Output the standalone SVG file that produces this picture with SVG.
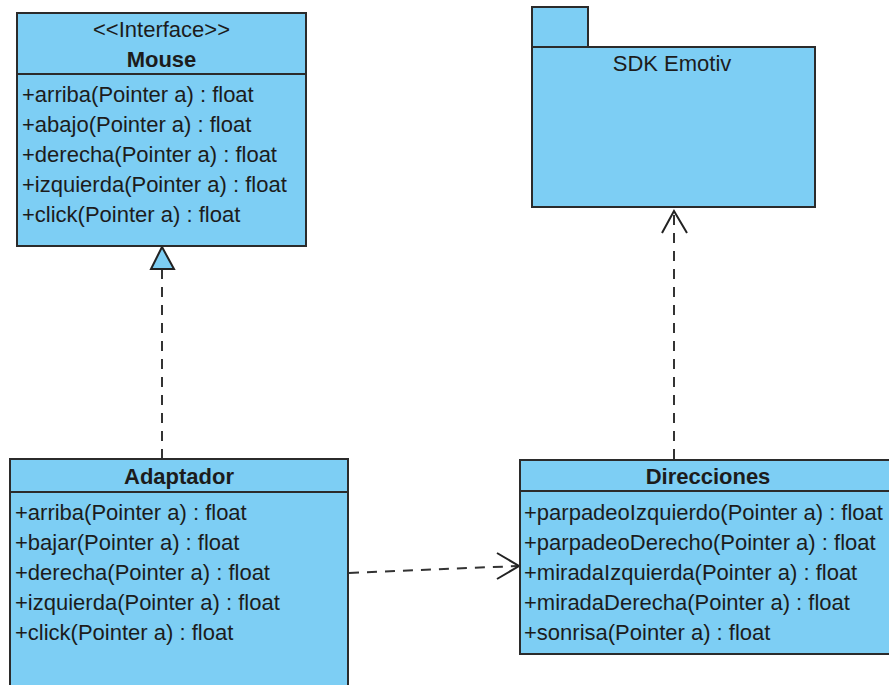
<svg xmlns="http://www.w3.org/2000/svg" width="889" height="685" viewBox="0 0 889 685">
<style>
.box{fill:#7dcef4;stroke:#2b2b2b;stroke-width:2}
.div{stroke:#2b2b2b;stroke-width:2}
.t{font-family:"Liberation Sans",Arial,sans-serif;font-size:22px;fill:#1c1c1c}
.b{font-weight:bold}
.c{text-anchor:middle}
.dash{fill:none;stroke:#333;stroke-width:2;stroke-dasharray:10 8}
.head{fill:none;stroke:#222;stroke-width:2}
.tri{fill:#7dcef4;stroke:#222;stroke-width:2}
</style>
<rect width="889" height="685" fill="#ffffff"/>
<g id="connectors">
  <line class="dash" x1="162" y1="459" x2="162" y2="269"/>
  <polygon class="tri" points="162,247 151,269 174,269"/>
  <line class="dash" x1="674" y1="459" x2="674" y2="213"/>
  <polyline class="head" points="662,233 674,211 687,233"/>
  <line class="dash" x1="349" y1="573" x2="518" y2="566"/>
  <polyline class="head" points="497,553 519,566 497,579"/>
</g>
<g id="mouse">
  <rect class="box" x="17" y="13" width="289" height="233"/>
  <line class="div" x1="17" y1="74" x2="306" y2="74"/>
  <text class="t c" x="161.5" y="37">&lt;&lt;Interface&gt;&gt;</text>
  <text class="t c b" x="161.5" y="67">Mouse</text>
  <text class="t" x="22" y="102">+arriba(Pointer a) : float</text>
  <text class="t" x="22" y="132">+abajo(Pointer a) : float</text>
  <text class="t" x="22" y="162">+derecha(Pointer a) : float</text>
  <text class="t" x="22" y="192">+izquierda(Pointer a) : float</text>
  <text class="t" x="22" y="222">+click(Pointer a) : float</text>
</g>
<g id="sdk-emotiv">
  <rect class="box" x="532" y="7" width="56" height="40"/>
  <rect class="box" x="532" y="47" width="283" height="160"/>
  <text class="t c" x="672" y="71">SDK Emotiv</text>
</g>
<g id="adaptador">
  <rect class="box" x="10" y="459" width="338" height="240"/>
  <line class="div" x1="10" y1="492" x2="348" y2="492"/>
  <text class="t c b" x="179" y="484">Adaptador</text>
  <text class="t" x="15" y="520">+arriba(Pointer a) : float</text>
  <text class="t" x="15" y="550">+bajar(Pointer a) : float</text>
  <text class="t" x="15" y="580">+derecha(Pointer a) : float</text>
  <text class="t" x="15" y="610">+izquierda(Pointer a) : float</text>
  <text class="t" x="15" y="640">+click(Pointer a) : float</text>
</g>
<g id="direcciones">
  <rect class="box" x="520" y="460" width="378" height="194"/>
  <line class="div" x1="520" y1="491" x2="898" y2="491"/>
  <text class="t c b" x="708" y="484">Direcciones</text>
  <text class="t" x="524" y="520">+parpadeoIzquierdo(Pointer a) : float</text>
  <text class="t" x="524" y="550">+parpadeoDerecho(Pointer a) : float</text>
  <text class="t" x="524" y="580">+miradaIzquierda(Pointer a) : float</text>
  <text class="t" x="524" y="610">+miradaDerecha(Pointer a) : float</text>
  <text class="t" x="524" y="640">+sonrisa(Pointer a) : float</text>
</g>
</svg>
